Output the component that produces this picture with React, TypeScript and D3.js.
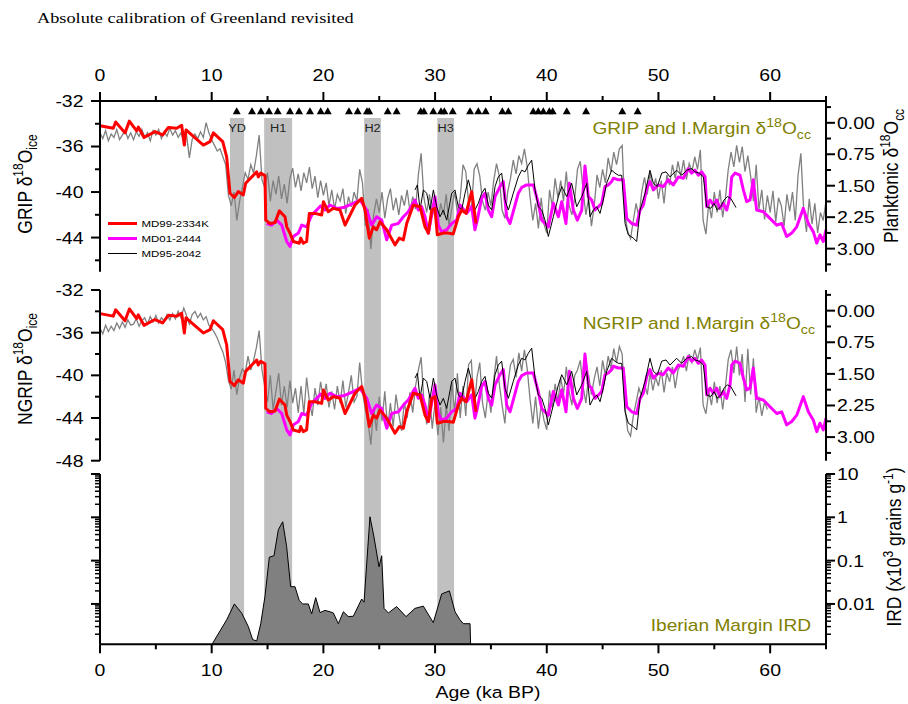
import React from 'react';
import * as d3 from 'd3';

// ---------------- DATA ----------------
const titleText = 'Absolute calibration of Greenland revisited';
const xTicks = [0, 10, 20, 30, 40, 50, 60];
const xMinorTicks = [5, 15, 25, 35, 45, 55, 65];
const gripTicks = [-32, -36, -40, -44];
const gripMinor = [-34, -38, -42, -46];
const ngripTicks = [-32, -36, -40, -44, -48];
const ngripMinor = [-34, -38, -42, -46];
const planktTicks = [0, 0.75, 1.5, 2.25, 3.0];
const planktMinor = [-0.375, 0.375, 1.125, 1.875, 2.625, 3.375];
const irdTicks = [10, 1, 0.1, 0.01];
const IRD_MIN = 0.00117;

// Heinrich / YD bands (ka)
const bands: [string, number, number][] = [
  ['YD', 11.64, 12.9],
  ['H1', 14.7, 17.2],
  ['H2', 23.65, 25.15],
  ['H3', 30.2, 31.7],
];

// tie point triangles (ka)
const tiePoints = [12.24, 13.61, 14.41, 15.13, 15.91, 17.01, 17.82, 18.8, 19.76, 20.39, 22.29, 23.07, 23.9, 24.1,
  25.76, 26.56, 28.71, 29.0, 29.84, 30.53, 30.83, 31.58, 33.13, 33.87, 34.53, 36.02, 36.56, 38.79, 39.24,
  39.69, 40.23, 40.53, 41.79, 43.52, 46.76, 48.14];

// GRIP d18O (permil), 0.25 ka step from 0 ka
const gripStep = 0.25;
const gripValues = [
  -34.8, -35.3, -34.6, -35.5, -34.9, -35.2, -34.5, -35.4, -35.0, -34.6, -35.3, -34.8, -35.4, -34.7, -35.1, -34.5,
  -35.2, -34.8, -35.5, -34.6, -35.0, -34.5, -35.3, -34.7, -35.1, -34.4, -35.0, -34.6, -35.2, -34.8, -35.6, -35.0,
  -37.0, -35.4, -34.9, -35.3, -34.7, -35.2, -33.9, -34.8, -35.4, -35.9, -36.4, -36.2, -36.9, -37.6, -40.3, -41.2,
  -40.0, -42.5, -40.8, -39.6, -38.3, -38.9, -37.6, -38.3, -36.8, -35.0, -38.9, -39.6, -38.3, -40.8, -39.0, -40.2,
  -38.6, -40.6, -39.3, -41.0, -38.8, -37.9, -39.6, -38.4, -39.9, -38.3, -39.2, -37.8, -39.7, -38.6, -40.5, -39.0,
  -40.3, -39.2, -41.2, -39.8, -41.5, -40.2, -40.8, -39.7, -41.9, -40.4, -41.3, -40.0, -40.8, -38.0, -39.2, -43.0,
  -41.5, -45.0, -42.0, -40.6, -41.8, -40.0, -42.3, -40.6, -39.7, -41.6, -40.5, -42.0, -40.3, -41.2, -39.8, -41.7,
  -40.4, -41.5, -38.5, -36.6, -40.5, -41.8, -40.2, -42.2, -40.6, -42.8, -41.0, -42.0, -40.2, -43.0, -41.4, -40.0,
  -41.8, -40.5, -37.6, -38.2, -40.9, -41.5, -38.0, -37.5, -38.6, -40.8, -41.6, -40.0, -41.2, -39.0, -37.5, -38.6,
  -41.6, -42.3, -40.0, -38.8, -37.2, -38.4, -36.8, -37.5, -36.2, -37.8, -40.4, -42.5, -41.0, -43.2, -40.5, -42.8,
  -43.6, -39.8, -41.3, -38.8, -40.5, -39.0, -40.8, -38.2, -41.2, -42.0, -40.6, -38.0, -37.3, -39.8, -42.0, -40.5,
  -43.0, -41.2, -38.5, -39.6, -38.0, -39.2, -37.0, -38.2, -36.5, -37.6, -36.2, -35.9, -42.0, -43.5, -44.1, -42.5,
  -41.0, -42.2, -40.0, -38.7, -40.2, -38.3, -39.8, -38.8, -40.6, -39.0, -41.0, -38.5, -39.4, -37.6, -38.8, -37.3,
  -38.6, -37.2, -38.9, -37.5, -38.2, -36.9, -38.0, -36.3, -42.5, -43.7, -41.0, -42.3, -40.0, -41.8, -39.8, -42.2,
  -40.5, -38.0, -36.5, -37.8, -35.9, -37.4, -36.0, -38.2, -36.8, -38.6, -40.8, -37.6, -41.5, -39.8, -42.4, -40.3,
  -41.8, -39.9, -42.6, -40.5, -41.2, -43.0, -40.2, -41.7, -40.0, -42.5, -38.5, -36.6, -41.5, -43.5, -40.6, -42.8,
  -41.0, -43.6, -41.8, -42.5, -40.8,
];

// NGRIP d18O (permil), 0.25 ka step from 0 ka
const ngripStep = 0.25;
const ngripValues = [
  -35.6, -36.1, -35.3, -35.9, -35.4, -35.8, -35.1, -35.6, -35.0, -35.5, -34.8, -35.3, -35.2, -34.7, -35.4, -34.9,
  -34.6, -35.2, -34.5, -35.0, -34.4, -35.1, -34.6, -34.9, -34.3, -34.8, -34.2, -34.7, -34.0, -34.6, -33.7, -34.4,
  -35.2, -34.3, -34.0, -34.6, -34.2, -34.8, -34.5, -35.3, -35.6, -36.0, -36.5, -37.2, -37.8, -38.8, -40.5, -41.3,
  -39.5, -41.8, -40.2, -39.4, -39.8, -38.2, -39.5, -38.6, -37.4, -35.8, -39.5, -41.0, -42.5, -40.0, -43.2, -41.5,
  -39.8, -42.8, -41.0, -43.0, -40.5, -42.6, -41.2, -43.5, -41.0, -43.6, -40.2, -42.5, -43.8, -41.2, -42.8, -40.6,
  -42.2, -40.8, -43.0, -41.5, -43.2, -41.0, -42.6, -40.5, -43.0, -41.6, -40.0, -42.5, -42.0, -38.8, -41.5, -43.2,
  -44.5, -46.5, -43.0, -45.2, -42.0, -44.3, -41.5, -45.0, -42.6, -44.8, -41.8, -43.6, -45.2, -42.5, -44.0, -41.6,
  -43.5, -41.0, -39.5, -38.3, -42.4, -44.6, -41.8, -45.0, -42.5, -45.6, -43.0, -46.3, -42.8, -45.2, -40.5, -43.5,
  -39.8, -44.0, -41.0, -43.8, -39.0, -38.6, -43.5, -40.2, -38.8, -42.6, -44.0, -41.5, -43.5, -40.5, -38.2, -40.8,
  -42.8, -44.5, -41.0, -39.0, -38.5, -40.2, -37.9, -39.6, -37.6, -39.4, -42.2, -44.5, -42.0, -45.0, -42.8, -44.2,
  -45.1, -41.4, -43.0, -40.8, -42.5, -40.2, -41.8, -39.2, -41.5, -42.8, -40.0, -39.5, -38.6, -41.0, -42.6, -40.0,
  -41.8, -40.3, -39.2, -41.0, -38.6, -40.0, -38.2, -39.4, -37.5, -38.8, -37.3, -38.0, -43.0, -45.2, -45.7, -43.8,
  -42.5, -41.2, -42.0, -40.8, -41.8, -39.8, -41.4, -40.2, -41.0, -39.5, -41.6, -39.8, -40.6, -39.2, -41.2, -39.5,
  -39.0, -38.2, -39.6, -38.0, -38.8, -37.6, -38.5, -37.4, -42.8, -43.6, -41.5, -42.8, -40.6, -42.6, -41.0, -43.2,
  -41.0, -38.5, -37.6, -39.8, -37.3, -40.0, -38.0, -42.5, -37.5, -41.8, -38.4, -43.5, -42.0, -43.8, -42.5, -43.2,
];

// MD99-2334K planktonic d18O [age ka, permil]
const md99_2334K: [number, number][] = [
  [0, 0.07], [1.19, 0.13], [1.4, -0.02], [2.24, 0.24], [2.63, -0.04], [3.28, 0.19], [3.43, 0.1], [3.94, 0.35],
  [4.92, 0.21], [5.61, 0.29], [6.12, 0.11], [6.87, 0.13], [7.31, 0.06], [7.55, 0.53], [7.7, 0.17], [8.21, 0.29],
  [9.25, 0.53], [9.85, 0.45], [10.15, 0.24], [10.99, 0.45], [11.34, 0.81], [11.64, 1.68], [12.03, 1.78], [12.38, 1.64],
  [12.83, 1.72], [13.04, 1.44], [14.03, 1.17], [14.17, 1.29], [14.39, 1.2], [14.77, 1.26], [14.84, 2.32], [15.22, 2.4],
  [15.67, 2.38], [16.06, 2.1], [16.56, 2.24], [16.72, 2.48], [17.01, 2.63], [17.31, 2.83], [17.85, 2.87], [17.97, 2.75],
  [18.2, 2.87], [18.5, 2.83], [18.74, 2.16], [19.25, 2.16], [19.85, 2.2], [20.0, 1.88], [20.44, 2.12], [20.89, 2.04],
  [21.49, 2.08], [21.94, 2.44], [22.83, 1.96], [23.43, 1.8], [23.73, 2.08], [24.11, 2.75], [24.47, 2.48], [24.77, 2.55],
  [25.07, 2.36], [25.67, 2.55], [26.41, 2.91], [26.8, 2.75], [27.16, 2.79], [27.46, 2.4], [28.05, 1.96], [28.65, 2.0],
  [29.1, 2.48], [29.4, 2.63], [29.7, 2.08], [29.99, 2.04], [30.2, 2.67], [30.74, 2.63], [31.19, 2.63], [31.63, 2.65],
  [32.08, 2.24], [32.38, 2.08], [32.77, 2.16], [33.28, 1.64], [33.67, 2.4],
];

// MD01-2444 planktonic d18O [age ka, permil]
const md01_2444: [number, number][] = [
  [14.92, 2.4], [15.37, 2.44], [15.82, 2.32], [16.27, 2.44], [16.72, 2.83], [17.01, 2.95], [17.31, 2.71], [17.76, 2.63],
  [18.06, 2.44], [18.5, 2.48], [18.95, 2.2], [19.4, 2.08], [19.76, 1.98], [20.14, 2.08], [20.59, 1.96], [21.19, 2.04],
  [21.79, 2.02], [22.68, 1.92], [23.28, 1.84], [23.88, 2.08], [24.32, 2.44], [24.77, 2.24], [25.22, 2.32], [25.67, 2.79],
  [26.12, 2.44], [26.71, 2.4], [27.16, 2.24], [27.6, 2.12], [28.2, 1.84], [28.5, 2.08], [28.8, 2.0], [29.1, 2.24],
  [29.4, 2.63], [29.99, 1.76], [30.29, 2.44], [30.59, 2.6], [31.04, 2.55], [31.49, 2.4], [31.94, 2.32], [32.23, 1.96],
  [32.83, 2.16], [33.28, 2.0], [33.57, 2.55], [33.78, 2.32], [34.17, 1.8], [34.47, 1.68], [34.77, 2.08], [35.07, 2.24],
  [35.37, 1.76], [35.81, 1.52], [36.11, 1.4], [36.41, 2.24], [36.71, 2.4], [37.45, 1.68], [37.76, 1.54], [38.2, 1.48],
  [38.8, 1.48], [39.24, 1.92], [39.55, 2.32], [40.14, 2.48], [40.59, 1.92], [41.04, 2.24], [41.34, 1.88], [41.72, 2.4],
  [42.02, 1.44], [42.38, 2.08], [42.74, 2.32], [43.13, 2.08], [43.42, 1.03], [43.72, 1.76], [44.02, 1.84], [44.32, 2.08],
  [44.62, 2.0], [44.92, 1.92], [45.21, 1.52], [45.51, 1.48], [45.81, 1.4], [45.96, 1.32], [46.41, 1.36], [46.85, 1.36],
  [47.16, 2.28], [47.61, 2.4], [48.05, 2.44], [48.35, 2.08], [48.65, 1.96], [48.95, 1.56], [49.24, 1.4], [49.54, 1.6],
  [49.99, 1.48], [50.43, 1.52], [50.88, 1.36], [51.33, 1.48], [51.78, 1.29], [52.23, 1.32], [52.67, 1.09], [52.97, 1.2],
  [53.27, 1.13], [53.57, 1.25], [53.87, 1.17], [54.17, 1.29], [54.32, 2.0], [54.62, 1.84], [54.91, 1.96], [55.21, 1.84],
  [55.51, 2.04], [55.81, 1.92], [56.11, 2.08], [56.41, 1.76], [56.56, 1.29], [56.85, 1.2], [57.3, 1.25], [57.6, 1.6],
  [57.9, 1.88], [58.2, 1.84], [58.49, 1.36], [58.79, 2.08], [59.39, 2.12], [60.14, 2.32], [60.59, 2.44], [61.03, 2.4],
  [61.48, 2.71], [61.93, 2.63], [62.38, 2.48], [62.97, 2.04], [63.42, 2.4], [63.87, 2.6], [64.17, 2.87], [64.46, 2.67],
  [64.76, 2.83], [65.0, 2.55],
];

// MD95-2042 planktonic d18O [age ka, permil]
const md95_2042: [number, number][] = [
  [28.2, 1.6], [28.42, 1.48], [28.65, 2.08], [28.95, 1.6], [29.25, 1.68], [29.55, 2.08], [29.85, 1.6], [30.14, 2.0],
  [30.44, 2.24], [30.74, 2.08], [31.04, 2.32], [31.49, 1.68], [31.78, 1.6], [32.08, 2.0], [32.38, 2.08], [32.68, 1.68],
  [32.98, 1.36], [33.28, 1.68], [33.57, 2.08], [33.87, 1.92], [34.17, 1.68], [34.47, 1.56], [34.77, 1.96], [35.07, 2.08],
  [35.37, 1.52], [35.66, 1.29], [35.96, 1.2], [36.26, 1.84], [36.56, 2.08], [37.0, 1.68], [37.45, 1.29], [37.76, 1.13],
  [38.05, 1.17], [38.35, 1.01], [38.65, 0.89], [38.95, 1.6], [39.24, 2.0], [39.55, 2.08], [39.84, 2.32], [40.14, 2.71],
  [40.59, 2.24], [41.04, 1.76], [41.34, 1.52], [41.79, 1.76], [42.23, 1.44], [42.68, 2.0], [43.13, 1.76], [43.58, 1.44],
  [43.87, 2.24], [44.17, 2.08], [44.47, 2.0], [44.77, 2.16], [45.06, 1.84], [45.36, 1.44], [45.81, 1.13], [46.11, 1.2],
  [46.41, 1.25], [46.71, 1.25], [47.01, 2.4], [47.3, 2.67], [47.75, 2.75], [48.05, 2.83], [48.35, 2.08], [48.8, 1.68],
  [49.24, 1.13], [49.54, 1.44], [49.9, 1.52], [50.29, 1.2], [50.68, 1.17], [51.03, 1.29], [51.63, 1.13], [52.08, 1.25],
  [52.53, 1.13], [52.97, 1.09], [53.27, 1.17], [53.66, 1.2], [54.02, 1.29], [54.32, 2.0], [54.68, 2.04], [54.98, 1.92],
  [55.27, 2.08], [55.57, 2.0], [55.87, 1.84], [56.17, 1.76], [56.47, 1.8], [56.94, 2.02],
];

// Iberian Margin IRD (x10^3 grains/g) [age ka, value]
const irdData: [number, number][] = [
  [10.03, IRD_MIN], [11.34, 0.0043], [12.03, 0.010], [12.69, 0.0061], [13.28, 0.0030], [13.67, 0.0015], [14.03, 0.0014],
  [14.39, 0.0035], [14.77, 0.015], [15.16, 0.12], [15.58, 0.13], [15.97, 0.52], [16.36, 0.79], [16.71, 0.21],
  [17.07, 0.025], [17.46, 0.025], [17.84, 0.012], [18.15, 0.010], [18.65, 0.010], [18.95, 0.0059], [19.31, 0.014],
  [19.7, 0.0063], [20.14, 0.0071], [20.59, 0.0066], [20.89, 0.0062], [21.34, 0.0035], [21.79, 0.0066], [22.23, 0.0051],
  [22.68, 0.0052], [23.43, 0.013], [23.64, 0.011], [24.17, 1.03], [24.53, 0.35], [24.98, 0.072], [25.22, 0.13],
  [25.43, 0.0079], [25.82, 0.0062], [26.56, 0.0087], [27.4, 0.0051], [28.2, 0.0079], [28.95, 0.0089], [29.84, 0.0037],
  [30.59, 0.017], [31.28, 0.020], [31.79, 0.0066], [32.23, 0.0043], [32.53, 0.0035], [33.13, 0.0035], [33.18, IRD_MIN],
];

const legendItems: [string, string, number][] = [
  ['MD99-2334K', '#ff0000', 3],
  ['MD01-2444', '#ff00ff', 3],
  ['MD95-2042', '#000000', 1],
];

// ---------------- LAYOUT ----------------
const W = 908;
const H = 704;
const FONT = 'Liberation Sans, Arial, Helvetica, sans-serif';
const SERIF = 'Liberation Serif, Times New Roman, serif';
const OLIVE = '#808000';
const SX = 1.18; // horizontal stretch of the original raster text
const TICK_FS = 16.5;

const x = d3.scaleLinear().domain([0, 65]).range([100, 826]);
const yGrip = d3.scaleLinear().domain([-32, -47]).range([101, 271.7]);
const yTopR = d3.scaleLinear().domain([-0.52, 3.55]).range([101, 271.7]);
const yNgrip = d3.scaleLinear().domain([-32, -48]).range([290, 460.7]);
const yMidR = d3.scaleLinear().domain([-0.49, 3.56]).range([290, 460.7]);
const yIrd = d3.scaleLog().domain([IRD_MIN, 10]).range([644.3, 474]);

const fmt2 = d3.format('.2f');

type STProps = {
  x: number; y: number; size: number; anchor?: 'start' | 'middle' | 'end'; fill?: string; family?: string;
  rotate?: boolean; dy?: string; children: React.ReactNode;
};
function ST({ x: px, y: py, size, anchor = 'start', fill = '#000', family = FONT, rotate = false, dy, children }: STProps) {
  return (
    <text
      transform={`translate(${px},${py}) scale(${SX},1)${rotate ? ' rotate(-90)' : ''}`}
      textAnchor={anchor}
      fontSize={size}
      fontFamily={family}
      fill={fill}
      dy={dy}
    >
      {children}
    </text>
  );
}

function YLeftAxis({ scale, ticks, minor, x0 }: { scale: d3.ScaleLinear<number, number>; ticks: number[]; minor: number[]; x0: number }) {
  const [r0, r1] = scale.range();
  return (
    <g>
      <line x1={x0} x2={x0} y1={r0} y2={r1} stroke="#000" strokeWidth={2} />
      {ticks.map((t) => (
        <g key={'M' + t}>
          <line x1={x0 - 9} x2={x0} y1={scale(t)} y2={scale(t)} stroke="#000" strokeWidth={2} />
          <ST x={x0 - 16.5} y={scale(t)} dy="0.36em" anchor="end" size={TICK_FS}>{t}</ST>
        </g>
      ))}
      {minor.map((t) => (
        <line key={'m' + t} x1={x0 - 5} x2={x0} y1={scale(t)} y2={scale(t)} stroke="#000" strokeWidth={2} />
      ))}
    </g>
  );
}

function YRightAxis({ scale, ticks, minor, x0, y0, y1 }: { scale: d3.ScaleLinear<number, number>; ticks: number[]; minor: number[]; x0: number; y0: number; y1: number }) {
  return (
    <g>
      <line x1={x0} x2={x0} y1={y0} y2={y1} stroke="#000" strokeWidth={2} />
      {ticks.map((t) => (
        <g key={'M' + t}>
          <line x1={x0} x2={x0 + 9} y1={scale(t)} y2={scale(t)} stroke="#000" strokeWidth={2} />
          <ST x={x0 + 11} y={scale(t)} dy="0.36em" size={TICK_FS}>{fmt2(t)}</ST>
        </g>
      ))}
      {minor.map((t) => (
        <line key={'m' + t} x1={x0} x2={x0 + 5} y1={scale(t)} y2={scale(t)} stroke="#000" strokeWidth={2} />
      ))}
    </g>
  );
}

function LogAxis({ side, x0, labels }: { side: 'left' | 'right'; x0: number; labels: boolean }) {
  const dir = side === 'left' ? -1 : 1;
  const [lo, hi] = yIrd.domain();
  const minors: number[] = [];
  for (let e = -3; e <= 0; e++) {
    for (let m = 2; m <= 9; m++) {
      const v = m * Math.pow(10, e);
      if (v >= lo && v <= hi) minors.push(v);
    }
  }
  const [r0, r1] = yIrd.range();
  return (
    <g>
      <line x1={x0} x2={x0} y1={r0} y2={r1} stroke="#000" strokeWidth={2} />
      {irdTicks.map((t) => (
        <g key={'M' + t}>
          <line x1={x0} x2={x0 + dir * 9} y1={yIrd(t)} y2={yIrd(t)} stroke="#000" strokeWidth={2} />
          {labels && (
            <ST x={x0 + dir * 11} y={yIrd(t)} dy="0.36em" anchor={side === 'left' ? 'end' : 'start'} size={TICK_FS}>{t}</ST>
          )}
        </g>
      ))}
      {minors.map((t) => (
        <line key={'m' + t} x1={x0} x2={x0 + dir * 5} y1={yIrd(t)} y2={yIrd(t)} stroke="#000" strokeWidth={1.5} />
      ))}
    </g>
  );
}

function XAxis({ y0, up }: { y0: number; up: boolean }) {
  const d = up ? -1 : 1;
  return (
    <g>
      <line x1={x(0)} x2={x(65)} y1={y0} y2={y0} stroke="#000" strokeWidth={2} />
      {xTicks.map((t) => (
        <g key={'M' + t}>
          <line x1={x(t)} x2={x(t)} y1={y0} y2={y0 + d * 9} stroke="#000" strokeWidth={2} />
          <ST x={x(t)} y={up ? y0 - 20.5 : y0 + 31.5} anchor="middle" size={TICK_FS}>{t}</ST>
        </g>
      ))}
      {xMinorTicks.map((t) => (
        <line key={'m' + t} x1={x(t)} x2={x(t)} y1={y0} y2={y0 + d * 5} stroke="#000" strokeWidth={2} />
      ))}
    </g>
  );
}

export default function App() {
  const greyLine = (vals: number[], step: number, ys: d3.ScaleLinear<number, number>) =>
    d3.line<number>().x((_, i) => x(i * step)).y((v) => ys(v))(vals) || '';
  const mLine = (data: [number, number][], ys: d3.ScaleLinear<number, number>) =>
    d3.line<[number, number]>().x((d) => x(d[0])).y((d) => ys(d[1]))(data) || '';
  const irdArea =
    d3.area<[number, number]>().x((d) => x(d[0])).y0(yIrd(IRD_MIN)).y1((d) => yIrd(d[1]))(irdData) || '';

  const bandTop = 118;
  const bandBottom = 644.3;
  const triY = 110.7;
  const sup = 12;

  const marine = (ys: d3.ScaleLinear<number, number>) => (
    <g fill="none" strokeLinejoin="round">
      <path d={mLine(md01_2444, ys)} stroke="#ff00ff" strokeWidth={3} />
      <path d={mLine(md95_2042, ys)} stroke="#000" strokeWidth={1} />
      <path d={mLine(md99_2334K, ys)} stroke="#ff0000" strokeWidth={3} />
    </g>
  );

  const delta = (sub: string) => (
    <>
      δ<tspan fontSize={sup} dy={-7}>18</tspan><tspan dy={7}>O</tspan><tspan fontSize={sup} dy={5}>{sub}</tspan>
    </>
  );

  return (
    <svg width={W} height={H} style={{ position: 'fixed', left: 0, top: 0, display: 'block' }}>
      <rect x={0} y={0} width={W} height={H} fill="#fff" />
      <ST x={37} y={22.5} size={15.5} family={SERIF}>{titleText}</ST>

      {/* bands */}
      {bands.map(([name, a, b]) => (
        <g key={name}>
          <rect x={x(a)} y={bandTop} width={x(b) - x(a)} height={bandBottom - bandTop} fill="#c0c0c0" />
          <ST x={(x(a) + x(b)) / 2} y={131.8} anchor="middle" size={10.8} fill="#222">{name}</ST>
        </g>
      ))}

      {/* tie points */}
      {tiePoints.map((t, i) => (
        <path key={i} d={`M${x(t) - 4},${triY + 3.5}L${x(t) + 4},${triY + 3.5}L${x(t)},${triY - 3.5}Z`} fill="#000" />
      ))}

      {/* top panel */}
      <path d={greyLine(gripValues, gripStep, yGrip)} fill="none" stroke="#808080" strokeWidth={1.3} />
      {marine(yTopR)}

      {/* middle panel */}
      <path d={greyLine(ngripValues, ngripStep, yNgrip)} fill="none" stroke="#808080" strokeWidth={1.3} />
      {marine(yMidR)}

      {/* bottom panel */}
      <path d={irdArea} fill="#808080" stroke="#000" strokeWidth={1} />

      {/* axes */}
      <XAxis y0={101} up={true} />
      <XAxis y0={644.3} up={false} />
      <YLeftAxis scale={yGrip} ticks={gripTicks} minor={gripMinor} x0={100} />
      <YLeftAxis scale={yNgrip} ticks={ngripTicks} minor={ngripMinor} x0={100} />
      <YRightAxis scale={yTopR} ticks={planktTicks} minor={planktMinor} x0={826} y0={97} y1={271.7} />
      <YRightAxis scale={yMidR} ticks={planktTicks} minor={planktMinor} x0={826} y0={290} y1={460.7} />
      <LogAxis side="left" x0={100} labels={false} />
      <LogAxis side="right" x0={826} labels={true} />

      {/* legend */}
      {legendItems.map(([name, color, w], i) => (
        <g key={name}>
          <line x1={108} x2={137} y1={223.5 + i * 15} y2={223.5 + i * 15} stroke={color} strokeWidth={w} />
          <ST x={141.5} y={223.5 + i * 15} dy="0.36em" size={9.7}>{name}</ST>
        </g>
      ))}

      {/* panel annotations */}
      <ST x={811} y={134} anchor="end" size={16.2} fill={OLIVE}>GRIP and I.Margin {delta('cc')}</ST>
      <ST x={815} y={329.3} anchor="end" size={16.2} fill={OLIVE}>NGRIP and I.Margin {delta('cc')}</ST>
      <ST x={811} y={630.7} anchor="end" size={16.2} fill={OLIVE}>Iberian Margin IRD</ST>

      {/* axis titles */}
      <ST x={31.5} y={184} rotate anchor="middle" size={17.5}>GRIP {delta('ice')}</ST>
      <ST x={31.5} y={369} rotate anchor="middle" size={17.5}>NGRIP {delta('ice')}</ST>
      <ST x={898} y={176} rotate anchor="middle" size={17.5}>Planktonic {delta('cc')}</ST>
      <ST x={901} y={547} rotate anchor="middle" size={17.5}>
        IRD (x10<tspan fontSize={sup} dy={-7}>3</tspan><tspan dy={7}> grains g</tspan><tspan fontSize={sup} dy={-7}>-1</tspan><tspan dy={7}>)</tspan>
      </ST>
      <ST x={488} y={697.5} anchor="middle" size={16.5}>Age (ka BP)</ST>
    </svg>
  );
}
